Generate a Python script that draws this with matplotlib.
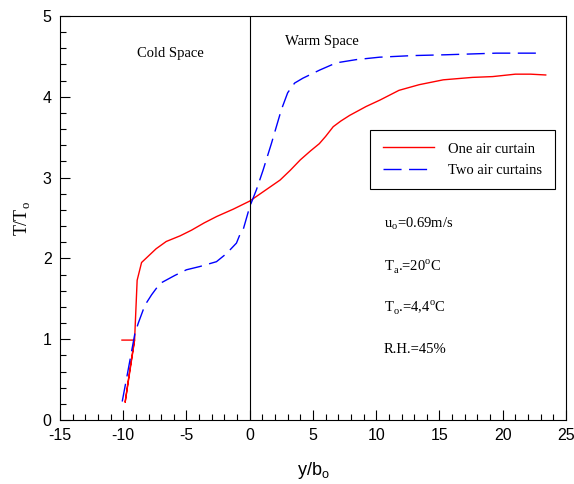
import matplotlib
matplotlib.use("Agg")
import matplotlib.pyplot as plt
from matplotlib.ticker import MultipleLocator

# one air curtain (red, solid)
one_x = [-10.1, -9.1, -9.85, -9.5, -9.1, -8.9, -8.55, -7.4, -6.6, -5.5, -4.6, -3.6, -2.6, -1.3, 0.0,
         1.2, 2.4, 3.2, 4.0, 4.8, 5.5, 6.0, 6.6, 7.2, 7.9, 9.2, 10.3, 11.8, 13.4, 15.3, 17.6,
         19.2, 21.0, 22.2, 23.4]
one_y = [0.99, 0.99, 0.22, 0.6, 1.0, 1.73, 1.95, 2.12, 2.21, 2.28, 2.35, 2.44, 2.52, 2.61, 2.71,
         2.84, 2.97, 3.09, 3.22, 3.33, 3.42, 3.51, 3.63, 3.70, 3.77, 3.88, 3.96, 4.08, 4.15, 4.21, 4.24,
         4.25, 4.28, 4.28, 4.27]

# two air curtains (blue, dashed)
two_x = [-10.08, -9.66, -9.08, -8.81, -8.29, -7.76, -7.1, -5.92, -5.0, -3.95, -2.63, -1.84, -1.05,
         -0.79, -0.53, 0.0, 0.53, 1.05, 1.71, 2.5, 3.0, 3.55, 4.2, 5.52, 6.84, 8.42, 10.26,
         12.9, 15.5, 19.5, 23.2]
two_y = [0.23, 0.58, 1.07, 1.2, 1.42, 1.55, 1.69, 1.79, 1.86, 1.9, 1.96, 2.06, 2.19,
         2.29, 2.35, 2.64, 2.85, 3.09, 3.42, 3.84, 4.05, 4.17, 4.23, 4.33, 4.42, 4.46, 4.49,
         4.51, 4.52, 4.54, 4.54]

serif = "Liberation Serif"
sans = "Liberation Sans"
plt.rcParams["axes.unicode_minus"] = False
plt.rcParams["mathtext.fontset"] = "custom"
plt.rcParams["mathtext.rm"] = serif
plt.rcParams["mathtext.sf"] = sans

fig = plt.figure(figsize=(5.74, 4.84), dpi=100)
ax = fig.add_axes([0.1045, 0.132, 0.8815, 0.835])

ax.plot(one_x, one_y, color="#ff0000", lw=1.0, label="One air curtain")
ax.plot(two_x, two_y, color="#0000ff", lw=1.0, dashes=(13, 5.4), label="Two air curtains")
ax.axvline(0, color="black", lw=0.8)

ax.set_xlim(-15, 25)
ax.set_ylim(0, 5)
ax.xaxis.set_major_locator(MultipleLocator(5))
ax.xaxis.set_minor_locator(MultipleLocator(1))
ax.yaxis.set_major_locator(MultipleLocator(1))
ax.yaxis.set_minor_locator(MultipleLocator(0.2))
ax.tick_params(which="both", direction="in", top=False, right=False, width=0.8)
ax.tick_params(which="major", length=7, labelsize=11.5, pad=6)
ax.tick_params(which="minor", length=4)
for lab in ax.get_xticklabels() + ax.get_yticklabels():
    lab.set_family(sans)

ax.set_xlabel("y/b$_\\mathsf{o}$", fontsize=13, family=sans, labelpad=12)
ax.set_ylabel("T/T$_\\mathrm{o}$", fontsize=13, family=serif, labelpad=8)

ax.text(-6.3, 4.53, "Cold Space", family=serif, fontsize=10.5, ha="center", va="center")
ax.text(2.8, 4.69, "Warm Space", family=serif, fontsize=10.5, ha="left", va="center")
ax.text(10.6, 2.43, "u$_\\mathrm{o}$=0.69m/s", family=serif, fontsize=10.5, va="center")
ax.text(10.6, 1.9, "T$_\\mathrm{a}$.=20$^\\mathrm{o}$C", family=serif, fontsize=10.5, va="center")
ax.text(10.6, 1.39, "T$_\\mathrm{o}$.=4,4$^\\mathrm{o}$C", family=serif, fontsize=10.5, va="center")
ax.text(10.6, 0.87, "R.H.=45%", family=serif, fontsize=10.5, va="center")

leg = ax.legend(loc="upper left", bbox_to_anchor=(0.613, 0.718), borderaxespad=0, frameon=True,
                fancybox=False, edgecolor="black", framealpha=1, handlelength=3.5,
                handletextpad=1.0, borderpad=0.85, labelspacing=0.55,
                prop={"family": serif, "size": 10.5})
leg.get_frame().set_linewidth(0.8)

fig.savefig("out.png", dpi=100)
